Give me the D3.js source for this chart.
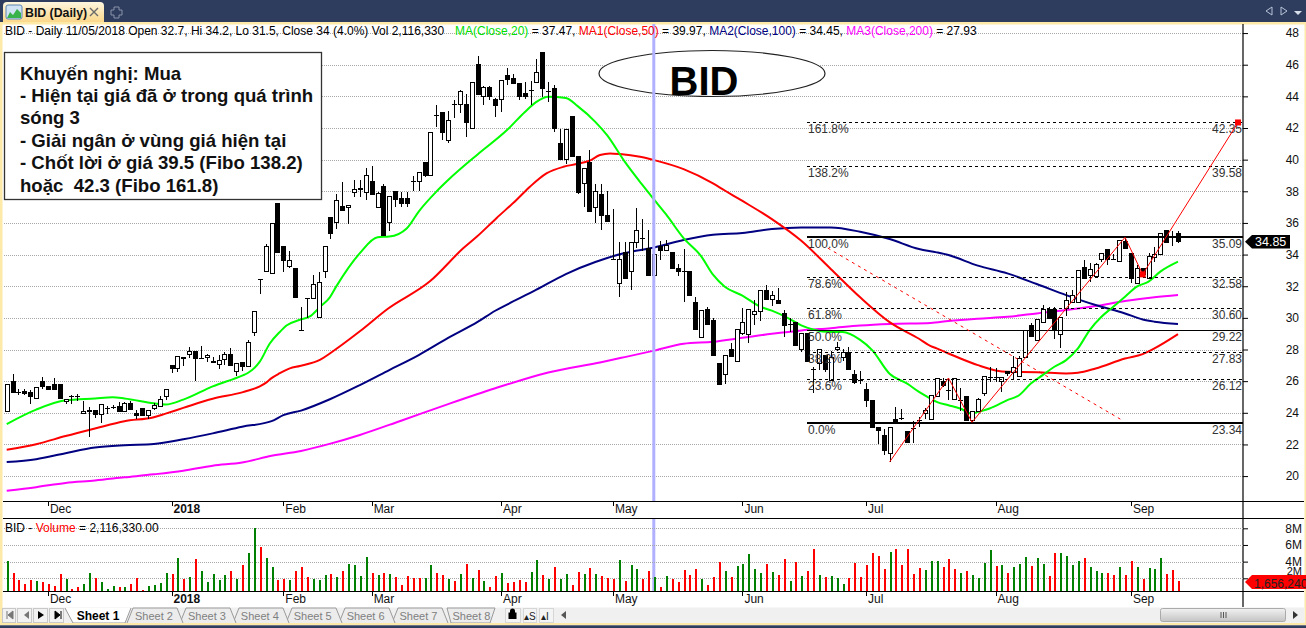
<!DOCTYPE html>
<html><head><meta charset="utf-8">
<script src="https://cdn.jsdelivr.net/npm/d3@7/dist/d3.min.js"></script>
<style>html,body{margin:0;padding:0;background:#fff;overflow:hidden}svg{display:block;font-family:"Liberation Sans",Arial,sans-serif}</style>
</head><body><svg id="c" width="1306" height="628"></svg>
<script>
const opens=[24.10,26.00,25.31,25.37,25.27,24.91,26.00,25.65,25.77,25.77,
24.73,25.06,25.06,23.93,24.14,24.14,23.87,24.27,24.35,24.37,
24.10,24.58,23.93,24.25,23.85,24.29,24.41,25.04,27.00,26.81,
27.50,27.69,27.88,27.44,27.50,27.25,27.04,27.36,27.69,26.63,
27.19,26.94,29.05,32.45,32.95,32.83,37.25,34.48,33.27,33.14,
29.19,31.20,31.20,30.01,32.95,36.35,36.05,37.01,36.99,37.94,
38.17,37.94,38.65,36.99,38.29,36.05,38.00,37.52,37.52,38.63,
38.61,39.83,39.01,42.79,42.98,41.21,43.46,43.48,43.48,41.95,
46.00,43.99,44.55,43.80,43.80,45.33,45.14,44.81,44.18,44.34,
44.87,46.76,44.32,44.49,41.03,40.02,42.75,40.23,38.48,39.83,
36.99,37.81,36.45,33.67,32.18,34.16,32.96,34.79,35.04,34.41,
32.70,34.52,34.24,34.12,33.15,32.94,32.90,30.97,28.78,30.50,
29.81,27.12,26.45,27.98,27.27,28.99,28.97,30.23,30.42,31.76,
31.18,31.09,30.25,29.58,29.71,27.98,29.03,26.76,27.10,27.63,
26.03,28.03,27.48,27.84,26.43,26.05,25.46,24.77,23.07,22.56,
21.41,23.57,23.66,22.84,23.00,23.53,23.97,23.57,25.01,25.96,
25.43,24.81,24.76,25.06,23.54,24.11,25.19,26.24,26.25,25.96,
26.60,26.52,26.27,27.50,29.52,28.59,29.69,30.54,30.54,28.95,
30.58,30.96,30.98,33.19,32.67,32.60,33.70,34.35,33.66,33.59,
34.82,34.04,32.16,33.13,32.48,33.83,34.00,35.54,35.14,35.35];
const highs=[25.77,26.46,25.52,25.52,25.46,25.62,26.25,25.65,26.19,25.77,
24.87,25.12,25.21,24.77,24.39,24.20,24.50,24.41,24.48,24.71,
24.71,24.75,24.16,24.25,24.12,24.62,25.08,25.50,27.00,27.57,
27.50,28.15,27.88,28.21,27.69,27.50,27.63,27.84,28.09,27.11,
27.19,28.59,30.38,32.45,34.64,35.96,37.25,34.48,34.23,33.14,
30.70,31.20,32.70,32.91,34.52,36.35,37.83,38.57,37.12,38.71,
38.71,39.45,39.60,37.98,38.44,37.68,38.00,37.94,37.94,38.99,
39.20,39.83,41.72,43.44,43.02,43.06,43.76,44.43,44.18,44.87,
46.53,44.68,44.64,43.92,45.00,45.77,45.44,44.81,44.91,44.95,
46.34,46.76,44.91,44.74,41.93,41.91,42.75,40.23,39.47,40.61,
38.46,38.46,38.04,36.87,34.79,34.79,34.79,36.95,36.24,35.56,
34.20,34.87,34.92,34.12,33.40,34.35,32.90,31.34,30.46,30.67,
30.00,27.12,27.61,28.42,29.24,30.63,30.50,31.13,31.76,32.06,
31.68,31.91,30.50,30.00,29.71,28.99,29.03,26.89,27.98,27.63,
27.90,28.47,28.05,28.15,26.72,26.62,25.88,24.77,23.07,23.00,
23.07,24.37,24.26,22.84,23.49,23.74,24.33,25.07,26.17,26.17,
26.17,26.18,25.57,25.06,24.11,24.95,26.28,26.91,26.80,26.22,
26.60,27.58,27.58,29.23,29.69,29.90,30.79,30.66,30.66,30.03,
31.65,31.76,33.00,33.66,33.45,33.49,34.04,34.35,34.04,34.90,
35.14,34.04,33.34,33.13,34.08,34.50,35.35,35.54,35.51,35.49];
const lows=[24.10,25.29,25.12,25.12,24.58,24.91,25.52,25.46,25.46,24.89,
24.58,24.58,24.75,23.93,22.47,23.70,23.33,23.91,24.27,24.10,
24.10,24.23,23.58,23.83,23.62,24.16,24.41,24.83,26.54,26.61,
26.98,27.48,26.02,27.38,27.21,27.17,26.79,27.02,26.98,26.35,
26.67,26.94,28.86,31.49,32.95,32.83,34.12,32.93,33.14,31.30,
29.19,30.01,31.20,30.01,32.49,34.99,35.63,36.78,35.96,37.66,
37.66,37.45,37.79,36.99,35.21,35.50,36.99,36.99,37.03,38.00,
38.04,38.92,39.01,42.08,41.24,41.07,42.64,42.92,41.45,41.95,
44.09,43.46,43.76,42.71,43.02,44.70,44.79,43.76,43.82,43.44,
44.87,43.97,43.65,41.76,40.00,39.72,40.18,37.83,37.03,36.72,
35.98,35.56,36.09,33.67,31.30,32.50,31.78,34.41,34.20,32.68,
31.50,33.66,34.24,33.13,32.67,30.99,31.41,29.29,28.78,29.52,
27.63,25.76,25.82,27.56,27.27,28.91,28.40,29.58,29.79,31.18,
30.78,30.92,28.82,29.10,28.28,27.84,27.23,25.25,26.72,26.58,
26.03,27.90,27.27,26.76,25.82,25.80,24.37,23.05,22.00,21.34,
20.90,23.32,23.53,22.06,22.12,23.11,23.63,23.57,25.01,25.64,
24.80,24.81,24.11,23.54,23.33,24.11,25.08,25.92,25.96,25.33,
26.34,26.11,26.27,27.50,28.76,28.55,29.69,29.90,28.68,28.07,
30.11,30.96,30.98,32.48,32.24,32.60,33.51,33.34,33.66,33.55,
34.38,32.18,32.16,32.50,32.48,33.55,34.00,34.76,34.57,34.76];
const closes=[25.77,25.29,25.29,25.21,25.04,25.62,25.65,25.46,25.46,24.89,
24.87,25.06,25.06,24.08,24.06,23.91,24.50,24.27,24.35,24.10,
24.56,24.23,23.85,23.83,24.12,24.43,24.81,25.50,26.79,27.57,
27.44,27.88,27.42,27.44,27.63,27.17,27.32,27.69,26.98,27.11,
26.92,28.44,30.38,32.45,34.52,35.96,34.12,33.62,33.64,31.30,
29.19,31.20,32.14,32.26,34.52,35.31,37.43,36.78,37.12,38.13,
38.13,39.01,37.79,37.83,35.21,37.68,37.47,37.24,37.22,38.63,
39.20,38.99,41.72,42.79,41.72,42.47,43.46,44.30,42.33,44.87,
44.09,44.55,43.97,43.40,45.00,45.08,44.79,43.97,43.97,44.34,
45.50,44.49,44.32,41.95,40.00,41.91,40.18,37.94,39.47,36.72,
38.00,36.47,36.09,33.67,33.71,32.50,34.79,35.54,35.04,32.68,
34.00,34.24,34.56,33.13,32.92,32.94,31.41,29.29,30.46,29.56,
27.63,25.76,27.61,27.56,29.24,29.68,30.50,30.38,31.76,31.18,
31.43,30.92,29.54,29.58,28.28,28.99,27.23,26.76,27.98,26.76,
27.50,28.15,27.82,26.76,25.90,26.05,24.75,23.05,22.86,21.60,
23.07,23.32,23.66,22.10,23.00,23.53,24.12,25.07,26.17,25.75,
25.43,26.18,24.76,23.54,24.11,24.81,26.28,26.24,26.25,26.22,
26.49,26.85,27.43,29.23,28.81,29.90,30.54,29.99,29.27,30.03,
31.11,31.40,33.00,32.48,33.07,33.38,34.04,33.66,33.66,34.90,
34.38,32.48,33.11,32.71,33.89,34.02,35.35,34.76,35.14,34.82];
const volumes=[4.08,2.64,1.80,1.32,1.80,1.68,1.56,1.32,1.08,2.52,
1.92,0.72,0.96,1.32,2.64,2.04,1.56,0.72,1.08,0.96,
0.96,1.32,2.04,0.60,1.08,1.20,1.44,2.64,2.52,4.44,
1.92,2.16,4.32,2.88,1.56,2.52,1.80,2.40,2.88,1.92,
3.60,5.04,8.00,5.76,4.44,3.36,1.80,1.92,1.80,2.88,
3.36,2.16,1.92,1.80,2.40,2.52,2.16,2.88,3.72,3.60,
2.28,4.56,2.64,2.40,2.64,2.52,2.16,1.20,2.28,2.04,
2.04,2.04,3.60,2.64,2.40,1.92,1.68,2.52,3.72,2.04,
3.00,1.68,0.96,2.28,2.64,1.44,1.56,1.80,1.56,2.76,
4.20,2.40,1.92,3.36,1.92,2.52,1.20,2.76,2.52,3.24,
2.52,2.28,2.04,1.92,4.20,1.68,3.60,3.12,1.92,2.88,
2.12,0.96,2.28,1.92,1.56,3.00,2.40,3.12,1.92,1.20,
2.16,3.96,2.88,2.16,3.48,3.72,4.92,3.12,2.64,3.72,
2.76,2.40,4.32,1.68,3.96,2.28,2.88,5.52,2.40,2.16,
2.28,2.04,1.32,2.04,3.84,2.16,3.60,5.04,4.68,3.12,
5.16,5.52,3.60,5.52,2.52,3.24,3.00,4.08,4.08,3.36,
4.32,3.12,2.64,2.88,2.40,2.04,3.84,5.40,3.48,3.60,
2.64,3.36,3.72,4.56,3.48,4.44,3.72,2.28,5.04,5.04,
4.68,3.60,4.08,4.44,3.36,2.88,2.64,2.64,2.40,3.36,
2.40,4.08,3.36,1.92,3.24,3.12,4.44,2.52,3.00,1.66];
const volUpFlags=[
1,0,0,0,0,1,0,0,0,0, 1,0,0,1,1,0,1,1,1,0, 1,0,0,0,1,1,1,1,0,1, 0,1,0,1,1,1,1,1,0,1,
0,1,1,0,1,1,0,0,1,0, 0,0,1,1,1,0,1,0,1,1, 1,1,0,1,0,1,0,0,0,0, 0,1,1,0,0,1,0,1,0,1,
0,1,0,0,1,0,0,0,0,1, 1,0,1,0,1,1,0,0,1,0, 1,0,0,0,1,0,1,1,0,0, 1,0,1,0,0,0,0,0,1,0,
0,0,1,0,1,1,1,1,1,0, 1,0,0,1,0,1,0,0,1,0, 1,1,1,0,0,0,0,0,0,0, 1,0,0,0,0,0,1,1,1,0,
0,0,1,0,1,1,1,1,0,1, 0,1,1,1,0,1,1,0,0,1, 1,1,1,0,1,1,1,0,0,1, 0,0,1,0,1,1,1,0,0,0];

const sampleMA20=[[0,23.29],[5,24.2],[10,24.79],[15,24.91],[18,24.98],[20,24.91],[25,24.6],[27,24.52],[30,24.83],[35,25.67],[40,26.35],[40.9,26.5],[43,27.23],[44.7,28.38],[46.4,29.11],[47.6,29.53],[49.8,29.88],[51.5,30.09],[53.2,30.68],[54.9,31.3],[56,31.99],[60,34.09],[63,35.1],[65,35.14],[68,35.67],[70,36.72],[73,37.98],[75,38.71],[80,40.33],[85,41.87],[88,43.0],[90,43.65],[92,43.97],[95,43.9],[97,43.38],[100,42.39],[102,41.55],[105,39.87],[108,38.4],[110,37.47],[112,36.55],[115,35.04],[118,33.89],[120,32.73],[122,31.97],[125,31.41],[128,30.71],[130,30.46],[133,29.94],[135,29.52],[137,29.26],[140,29.1],[142,29.1],[145,28.61],[147,27.98],[150,26.47],[153,25.84],[155,25.32],[157,24.89],[158,24.69],[160,24.48],[162,24.27],[164,23.95],[165,24.06],[167,24.27],[170,24.8],[172,25.11],[174,25.85],[176,26.38],[178,26.91],[180,27.33],[182,28.07],[184,29.23],[186,30.07],[188,30.7],[190,31.34],[192,31.97],[194,32.29],[196,32.92],[199,33.55]];
const sampleMA50=[[0,21.66],[5,22.01],[10,22.53],[15,23.01],[20,23.47],[25,23.72],[27,23.95],[30,24.31],[35,24.89],[40,25.29],[40.9,25.39],[43,25.67],[44.2,25.94],[45,26.19],[46.4,26.5],[48.1,26.81],[49.8,26.96],[53.2,27.34],[54.9,27.75],[60,29.15],[64.7,30.56],[71.9,32.31],[77.6,34.41],[79.9,35.14],[83.2,36.3],[86.6,37.45],[88.9,38.29],[91.7,39.13],[94.6,39.55],[96.8,39.72],[99,39.93],[100.8,40.29],[102.5,40.39],[104.2,40.35],[107.6,40.18],[110,39.97],[115,39.4],[120,38.5],[122,38.05],[125,37.39],[130,36.24],[135,34.87],[140,33.09],[145,31.3],[150,29.73],[155,28.68],[157,28.21],[158,28.07],[160,27.75],[165,27.01],[168,26.68],[170,26.59],[175,26.57],[180,26.49],[182,26.53],[185,26.8],[190,27.43],[193,27.71],[195,28.07],[199,28.97]];
const sampleMA100=[[0,20.89],[5,21.07],[10,21.45],[15,21.8],[20,21.95],[25,22.03],[30,22.33],[35,22.7],[40,23.12],[45,23.47],[47,23.85],[50,24.14],[55,24.87],[60,25.75],[65,26.7],[70,27.65],[75,28.73],[80,29.74],[83,30.45],[85,30.84],[90,31.78],[95,32.77],[100,33.53],[105,34.1],[110,34.45],[115,34.92],[120,35.25],[125,35.36],[130,35.61],[135,35.71],[140,35.71],[145,35.44],[150,34.98],[155,34.35],[158,34.14],[160,33.97],[165,33.3],[170,32.81],[175,32.14],[180,31.44],[185,30.81],[190,30.28],[193,29.9],[195,29.76],[199,29.61]];
const sampleMA200=[[0,19.07],[5,19.3],[10,19.57],[15,19.72],[20,19.92],[25,20.11],[30,20.34],[35,20.66],[40,20.86],[45,21.28],[50,21.59],[55,22.05],[60,22.6],[67,23.5],[75,24.55],[83,25.55],[92,26.55],[101,27.2],[105,27.52],[110,27.93],[115,28.36],[120,28.49],[125,28.74],[130,28.99],[135,29.2],[140,29.35],[145,29.52],[150,29.62],[157,29.68],[160,29.8],[165,29.95],[170,30.07],[175,30.28],[180,30.49],[185,30.75],[190,31.06],[195,31.3],[199,31.44]];

const priceTicks=[48,46,44,42,40,38,36,34,32,30,28,26,24,22,20];
const volTicks=[8,6,4,2];
const monthTicks=[[7,"Dec"],[28,"2018"],[47,"Feb"],[62,"Mar"],[84,"Apr"],[103,"May"],[125,"Jun"],[146,"Jul"],[168,"Aug"],[191,"Sep"]];
const fibLevels=[["161.8%",42.35,0],["138.2%",39.58,0],["100.0%",35.09,2],["78.6%",32.58,0],["61.8%",30.60,0],["50.0%",29.22,1],["38.2%",27.83,0],["23.6%",26.12,0],["0.0%",23.34,2]];
const waveLine=[[150,20.89],[160,26.2],[164,23.4],[190,35.09],[193,32.75],[209.2,42.35]];
const waveDash=[[139.5,34.41],[189.2,23.6]];
const waveMarks=[[193,32.75],[209.2,42.35]];
const noteLines=["Khuyến nghị: Mua","- Hiện tại giá đã ở trong quá trình","sóng 3","- Giải ngân ở vùng giá hiện tại","- Chốt lời ở giá 39.5 (Fibo 138.2)","hoặc  42.3 (Fibo 161.8)"];
const sheets=["Sheet 1","Sheet 2","Sheet 3","Sheet 4","Sheet 5","Sheet 6","Sheet 7","Sheet 8"];

const svg=d3.select("#c");
const x=d3.scaleLinear().domain([0,199]).range([6.7,1178]);
const y=d3.scaleLinear().domain([42,24]).range([128,412.8]);
const yV=d3.scaleLinear().domain([8,2]).range([528.3,578.3]);
const plotL=4,plotR=1243,plotT=24,plotB=501;
const defs=svg.append("defs");
defs.append("clipPath").attr("id","pc").append("rect").attr("x",plotL).attr("y",plotT).attr("width",plotR-plotL).attr("height",plotB-plotT);
defs.append("clipPath").attr("id","vc").append("rect").attr("x",plotL).attr("y",518).attr("width",plotR-plotL).attr("height",73);
const tg=defs.append("linearGradient").attr("id","tabg").attr("x1",0).attr("x2",0).attr("y1",0).attr("y2",1);
tg.append("stop").attr("offset",0).attr("stop-color","#fdf6df");tg.append("stop").attr("offset",1).attr("stop-color","#fbd78a");
const sg=defs.append("linearGradient").attr("id","thumb").attr("x1",0).attr("x2",0).attr("y1",0).attr("y2",1);
sg.append("stop").attr("offset",0).attr("stop-color","#f2f2f2");sg.append("stop").attr("offset",1).attr("stop-color","#c4c4c4");

// window frame
svg.append("rect").attr("width",1306).attr("height",22).attr("fill","#2e3d5e");
svg.append("rect").attr("y",22).attr("width",1306).attr("height",2.5).attr("fill","#fdeaa8");
svg.append("rect").attr("y",22).attr("width",2.5).attr("height",603).attr("fill","#fdeaa8");
svg.append("rect").attr("x",1304.5).attr("y",22).attr("width",1.5).attr("height",603).attr("fill","#fdeaa8");
svg.append("path").attr("d","M3,22V6Q3,2 7,2H100Q104,2 104,6V22Z").attr("fill","url(#tabg)");
svg.append("rect").attr("x",6).attr("y",5).attr("width",16).attr("height",14).attr("rx",2).attr("fill","#cfe3f5").attr("stroke","#5c86b3");
svg.append("path").attr("d","M7,18L10,12L13,15L17,9L21,13V18Z").attr("fill","#38b24a");
svg.append("text").attr("x",25).attr("y",16.5).attr("font-size",12.3).attr("font-weight","bold").attr("fill","#111").text("BID (Daily)");
svg.append("path").attr("d","M90,8L98,16M98,8L90,16").attr("stroke","#6a6a6a").attr("stroke-width",1.4).attr("fill","none");
svg.append("path").attr("d","M114,7h5v3h3v5h-3v3h-5v-3h-3v-5h3z").attr("stroke","#8a94a8").attr("fill","none");
svg.append("path").attr("d","M1272,7V15L1266,11ZM1281,7V15L1287,11Z").attr("fill","none").attr("stroke","#b9c4d8");
svg.append("path").attr("d","M1294,11H1302L1298,15Z").attr("fill","#d8deea");
// price pane grid
const axP=svg.append("g").attr("transform",`translate(${plotR},0)`).call(d3.axisRight(y).tickValues(priceTicks).tickSize(5).tickFormat(d3.format("d")));
axP.select(".domain").remove();
axP.selectAll("text").attr("text-anchor","end").attr("x",56).attr("font-size",12).attr("font-family","Liberation Sans").attr("fill","#111");
const gridStyle=s=>s.attr("stroke","#a8a8a8").attr("stroke-dasharray","1 1").attr("shape-rendering","crispEdges");
svg.append("g").selectAll("line").data(priceTicks).join("line").attr("x1",plotL).attr("x2",plotR)
  .attr("y1",d=>Math.round(y(d))+.5).attr("y2",d=>Math.round(y(d))+.5).call(gridStyle);
const mas=[[sampleMA200,"#ff00ff"],[sampleMA100,"#000080"],[sampleMA50,"#ff0000"],[sampleMA20,"#00ff00"]];
const lineGen=d3.line().x(d=>x(d[0])).y(d=>y(d[1]));
const smoothGen=d3.line().x(d=>x(d[0])).y(d=>y(d[1])).curve(d3.curveMonotoneX);
const pane=svg.append("g").attr("clip-path","url(#pc)");
pane.selectAll("path.ma").data(mas).join("path").attr("class","ma").attr("d",d=>smoothGen(d[0])).attr("fill","none").attr("stroke",d=>d[1]).attr("stroke-width",2);
const idx=d3.range(opens.length);
const cg=pane.append("g").attr("shape-rendering","crispEdges");
cg.selectAll("line.w").data(idx).join("line").attr("class","w").attr("x1",i=>Math.round(x(i))+.5).attr("x2",i=>Math.round(x(i))+.5)
  .attr("y1",i=>y(highs[i])).attr("y2",i=>y(lows[i])).attr("stroke","#000");
const isDoji=i=>Math.abs(opens[i]-closes[i])<.03;
cg.selectAll("rect.b").data(idx.filter(i=>!isDoji(i))).join("rect").attr("class","b")
  .attr("x",i=>Math.round(x(i))-2+.5).attr("width",4)
  .attr("y",i=>y(Math.max(opens[i],closes[i]))).attr("height",i=>Math.abs(y(opens[i])-y(closes[i])))
  .attr("fill",i=>closes[i]>opens[i]?"#fff":"#000").attr("stroke","#000");
cg.selectAll("line.d").data(idx.filter(isDoji)).join("line").attr("class","d")
  .attr("x1",i=>Math.round(x(i))-2).attr("x2",i=>Math.round(x(i))+3).attr("y1",i=>y(closes[i])).attr("y2",i=>y(closes[i])).attr("stroke","#000");
// fibonacci
const fg=svg.append("g");
fg.selectAll("line").data(fibLevels).join("line").attr("x1",807).attr("x2",plotR).attr("y1",d=>y(d[1])).attr("y2",d=>y(d[1]))
  .attr("stroke","#000").attr("stroke-width",d=>d[2]==2?2:1).attr("stroke-dasharray",d=>d[2]?null:"3 3").attr("shape-rendering","crispEdges");
fg.selectAll("text.p").data(fibLevels).join("text").attr("class","p").attr("x",808).attr("y",d=>y(d[1])+11).attr("font-size",12).attr("fill","#333").text(d=>d[0]);
fg.selectAll("text.v").data(fibLevels).join("text").attr("class","v").attr("x",1242).attr("y",d=>y(d[1])+11).attr("text-anchor","end").attr("font-size",12).attr("fill","#333").text(d=>d[1].toFixed(2));
svg.append("path").attr("d",lineGen(waveLine)).attr("fill","none").attr("stroke","#ff0000").attr("stroke-width",1);
svg.append("path").attr("d",lineGen(waveDash)).attr("fill","none").attr("stroke","#ff0000").attr("stroke-width",1).attr("stroke-dasharray","3 4");
svg.selectAll("rect.m").data(waveMarks).join("rect").attr("class","m").attr("x",d=>x(d[0])-3).attr("y",d=>y(d[1])-3).attr("width",6).attr("height",6).attr("fill","#ff0000");
// ellipse and note
svg.append("ellipse").attr("cx",712).attr("cy",73.5).attr("rx",113).attr("ry",23).attr("fill","#fff").attr("stroke","#222").attr("stroke-width",1.2);
svg.append("text").attr("x",704).attr("y",95).attr("text-anchor","middle").attr("font-size",40).attr("font-weight","bold").attr("fill","#000").text("BID");
svg.append("rect").attr("x",653.8-1.5).attr("y",plotT).attr("width",3).attr("height",plotB-plotT).attr("fill","#b0b0ff");
svg.append("rect").attr("x",653.8-1.5).attr("y",519).attr("width",3).attr("height",72).attr("fill","#b0b0ff");
svg.append("rect").attr("x",4.5).attr("y",52.5).attr("width",317).attr("height",147).attr("fill","#fff").attr("stroke","#333").attr("stroke-width",1.3);
svg.append("g").selectAll("text").data(noteLines).join("text").attr("x",20).attr("y",(d,i)=>79.5+i*22.4).attr("font-size",18.6).attr("font-weight","bold").attr("fill","#111").attr("xml:space","preserve").style("white-space","pre").text(d=>d);
// header
const hdr=svg.append("text").attr("x",5).attr("y",35).attr("font-size",12).attr("xml:space","preserve").style("white-space","pre");
[["BID - Daily 11/05/2018 Open 32.7, Hi 34.2, Lo 31.5, Close 34 (4.0%) Vol 2,116,330","#000",null],["MA(Close,20)","#00e000",455],[" = 37.47, ","#000",null],["MA1(Close,50)","#ff0000",null],[" = 39.97, ","#000",null],["MA2(Close,100)","#000080",null],[" = 34.45, ","#000",null],["MA3(Close,200)","#ff00ff",null],[" = 27.93","#000",null]]
 .forEach(p=>hdr.append("tspan").attr("fill",p[1]).attr("x",p[2]).text(p[0]));
// frames & date axes
svg.append("line").attr("x1",plotR).attr("x2",plotR).attr("y1",plotT).attr("y2",607).attr("stroke","#000").attr("stroke-width",1.2);
[501,591].forEach(ly=>{
  svg.append("line").attr("x1",3).attr("x2",1304).attr("y1",ly+.5).attr("y2",ly+.5).attr("stroke","#000").attr("stroke-width",1.2);
  const g=svg.append("g");
  g.selectAll("line").data(monthTicks).join("line").attr("x1",d=>Math.round(x(d[0]))+.5).attr("x2",d=>Math.round(x(d[0]))+.5).attr("y1",ly).attr("y2",ly+5).attr("stroke","#000");
  g.selectAll("text").data(monthTicks).join("text").attr("x",d=>x(d[0])+2).attr("y",ly+12).attr("font-size",12).attr("font-weight",d=>d[1]=="2018"?"bold":null).attr("fill","#111").text(d=>d[1]);
});
svg.append("line").attr("x1",3).attr("x2",1304).attr("y1",518.5).attr("y2",518.5).attr("stroke","#000").attr("stroke-width",1.2);
// volume pane
const axV=svg.append("g").attr("transform",`translate(${plotR},0)`).call(d3.axisRight(yV).tickValues(volTicks).tickSize(5).tickFormat(d=>d+"M"));
axV.select(".domain").remove();
axV.selectAll("text").attr("text-anchor","end").attr("x",59).attr("font-size",d=>d==2?11:12).attr("font-family","Liberation Sans").attr("fill","#111").attr("dy",d=>d==2?"-4":"0.32em");
svg.append("g").selectAll("line").data(volTicks).join("line").attr("x1",plotL).attr("x2",plotR).attr("y1",d=>Math.round(yV(d))+.5).attr("y2",d=>Math.round(yV(d))+.5).call(gridStyle);
svg.append("g").attr("clip-path","url(#vc)").attr("shape-rendering","crispEdges").selectAll("rect").data(idx).join("rect")
  .attr("x",i=>Math.round(x(i))-.5).attr("width",2.5).attr("y",i=>yV(volumes[i])).attr("height",i=>yV(0)-yV(volumes[i]))
  .attr("fill",i=>volUpFlags[i]?"#008000":"#ff0000");
const vh=svg.append("text").attr("x",5).attr("y",532).attr("font-size",12);
vh.append("tspan").text("BID - ");vh.append("tspan").attr("fill","#ff0000").text("Volume");vh.append("tspan").text(" = 2,116,330.00");
// last value tags
svg.append("path").attr("d","M1245,241.7L1252,235H1290V248.5H1252Z").attr("fill","#000");
svg.append("text").attr("x",1255).attr("y",246).attr("font-size",12.5).attr("fill","#fff").text("34.85");
svg.append("path").attr("d","M1245,582L1252,575H1306V589H1252Z").attr("fill","#ff0000");
svg.append("text").attr("x",1254).attr("y",587.5).attr("font-size",12).attr("fill","#222").text("1,656,240");
// bottom bar
svg.append("rect").attr("x",2.5).attr("y",607.5).attr("width",1302).attr("height",15.5).attr("fill","#f0f0f0");
[[2,16],[17,32],[33,48],[49,64]].forEach(b=>svg.append("rect").attr("x",b[0]+.5).attr("y",608.5).attr("width",b[1]-b[0]-1).attr("height",14).attr("fill","#f2f2f2").attr("stroke","#c8c8c8"));
svg.append("path").attr("d","M13,611V619L8,615ZM7,611V619").attr("fill","#777").attr("stroke","#777");
svg.append("path").attr("d","M29,611V619L24,615Z").attr("fill","#777");
svg.append("path").attr("d","M38,611V619L44,615Z").attr("fill","#000");
svg.append("path").attr("d","M55,611V619L60,615ZM61,611V619").attr("fill","#000").attr("stroke","#000");
const tabG=svg.append("g");
for(let i=sheets.length-1;i>=0;i--){
  const active=i==0, tl=active?65:127+(i-1)*53;
  const d=active?`M${tl},608L${tl+8},623H${tl+60}L${tl+66},608`:`M${tl},623L${tl+6},608H${tl+50}L${tl+56},623`;
  tabG.append("path").attr("d",i==7?`M${tl+2},608H${tl+50}L${tl+45},623H${tl+6}Z`:d).attr("fill",active?"#fff":"#ececec").attr("stroke","#9a9a9a");
}
sheets.forEach((s,i)=>{
  tabG.append("text").attr("x",i==0?98:154+(i-1)*52.9).attr("y",619.5).attr("text-anchor","middle").attr("font-size",i==0?12:11).attr("font-weight",i==0?"bold":null).attr("fill",i==0?"#000":"#808080").text(s);
});
[[505,521],[523,537],[539,554]].forEach(b=>svg.append("rect").attr("x",b[0]+.5).attr("y",608.5).attr("width",b[1]-b[0]-1).attr("height",14).attr("fill","#f4f4f4").attr("stroke","#d6d6d6"));
svg.append("path").attr("d","M510,612.5V611a2.5,2.5 0 0 1 5,0V612.5H516.5V619H508.5V612.5Z").attr("fill","#000");
svg.append("text").attr("x",524).attr("y",619.5).attr("font-size",10).attr("fill","#222").text("▴S");
svg.append("text").attr("x",541).attr("y",619.5).attr("font-size",10).attr("fill","#222").text("▴I");
svg.append("path").attr("d","M566,611V619L561,615Z").attr("fill","#555");
svg.append("rect").attr("x",1160.5).attr("y",608.5).attr("width",125).attr("height",13).attr("rx",2).attr("fill","url(#thumb)").attr("stroke","#aaa");
svg.append("path").attr("d","M1221,612V618M1223.5,612V618M1226,612V618").attr("stroke","#555");
svg.append("path").attr("d","M1293,611V619L1298,615Z").attr("fill","#333");
svg.append("rect").attr("y",623).attr("width",1306).attr("height",2.3).attr("fill","#fdeaa8");
svg.append("rect").attr("y",625.3).attr("width",1306).attr("height",2.7).attr("fill","#2e3d5e");
</script></body></html>
